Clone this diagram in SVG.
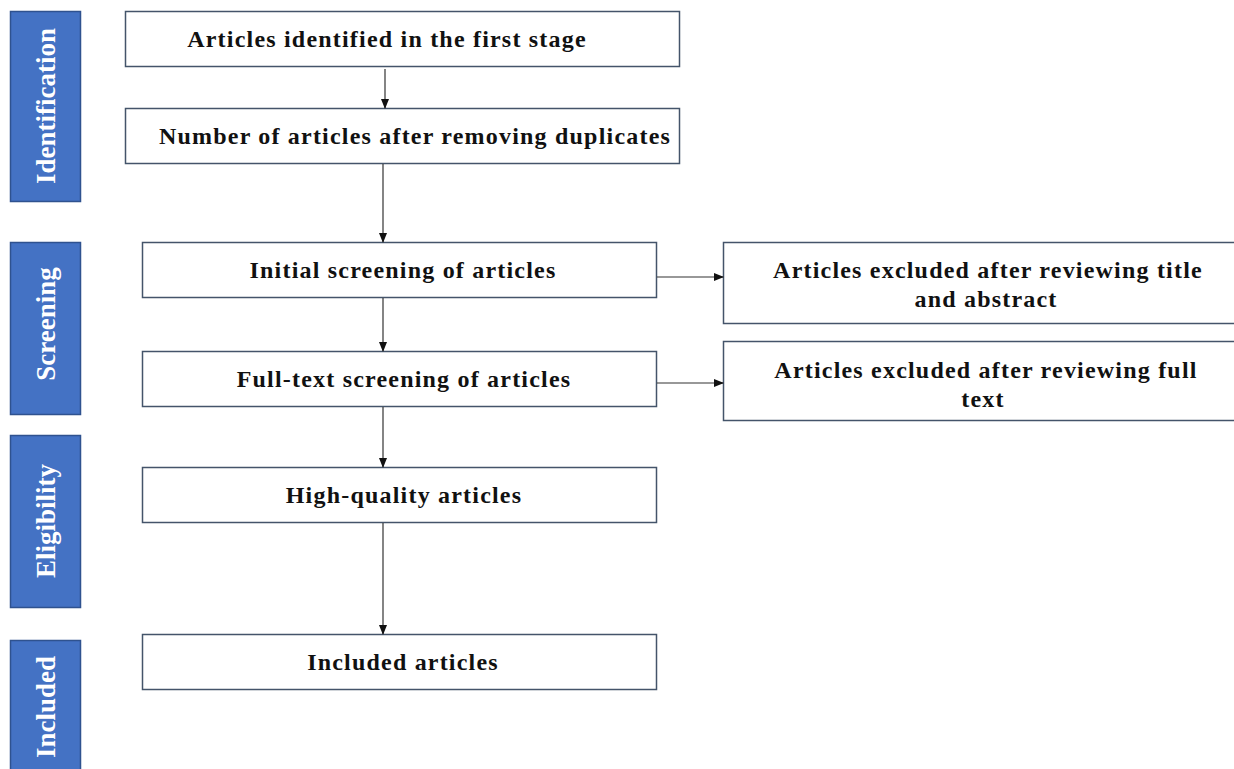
<svg xmlns="http://www.w3.org/2000/svg" width="1234" height="769" viewBox="0 0 1234 769">
<defs>
<marker id="arr" markerWidth="10" markerHeight="8" refX="9" refY="4" orient="auto" markerUnits="userSpaceOnUse">
<path d="M0,0 L10,4 L0,8 Z" fill="#111"/>
</marker>
<style>
.side{fill:#4472C4;stroke:#2F528F;stroke-width:1.5}
.sidet{fill:#fff;font-family:"Liberation Serif",serif;font-weight:bold;font-size:27px;text-anchor:middle}
.box{fill:#fff;stroke:#44546A;stroke-width:1.5}
.t{fill:#111;font-family:"Liberation Serif",serif;font-weight:bold;font-size:24px;letter-spacing:1.2px;text-anchor:middle}
.c{stroke:#333;stroke-width:1.2;fill:none;marker-end:url(#arr)}
</style>
</defs>
<rect width="1234" height="769" fill="#fff"/>
<g id="phase-identification"><rect class="side" x="10.5" y="11.5" width="70" height="190"/><text class="sidet" transform="translate(55,106) rotate(-90)">Identification</text></g>
<g id="phase-screening"><rect class="side" x="10.5" y="242.5" width="70" height="172"/><text class="sidet" transform="translate(55,324) rotate(-90)">Screening</text></g>
<g id="phase-eligibility"><rect class="side" x="10.5" y="435.5" width="70" height="172"/><text class="sidet" transform="translate(55,521) rotate(-90)">Eligibility</text></g>
<g id="phase-included"><rect class="side" x="10.5" y="640.5" width="70" height="135"/><text class="sidet" transform="translate(55,707) rotate(-90)">Included</text></g>
<g id="n1"><rect class="box" x="125.5" y="11.5" width="554" height="55"/><text class="t" x="387" y="47">Articles identified in the first stage</text></g>
<g id="n2"><rect class="box" x="125.5" y="108.5" width="554" height="55"/><text class="t" x="415" y="144">Number of articles after removing duplicates</text></g>
<g id="n3"><rect class="box" x="142.5" y="242.5" width="514" height="55"/><text class="t" x="403" y="278">Initial screening of articles</text></g>
<g id="n4"><rect class="box" x="142.5" y="351.5" width="514" height="55"/><text class="t" x="404" y="387">Full-text screening of articles</text></g>
<g id="n5"><rect class="box" x="142.5" y="467.5" width="514" height="55"/><text class="t" x="404" y="503">High-quality articles</text></g>
<g id="n6"><rect class="box" x="142.5" y="634.5" width="514" height="55"/><text class="t" x="403" y="670">Included articles</text></g>
<g id="x1"><rect class="box" x="723.5" y="242.5" width="520" height="81"/><text class="t" x="988" y="278">Articles excluded after reviewing title</text><text class="t" x="986" y="307">and abstract</text></g>
<g id="x2"><rect class="box" x="723.5" y="341.5" width="520" height="79"/><text class="t" x="986" y="378">Articles excluded after reviewing full</text><text class="t" x="983" y="407">text</text></g>
<g id="connectors">
<line class="c" x1="385" y1="69" x2="385" y2="108"/>
<line class="c" x1="383" y1="164" x2="383" y2="242"/>
<line class="c" x1="383" y1="298" x2="383" y2="351"/>
<line class="c" x1="383" y1="407" x2="383" y2="467"/>
<line class="c" x1="383" y1="523" x2="383" y2="634"/>
<line class="c" x1="657" y1="277" x2="723" y2="277"/>
<line class="c" x1="657" y1="383" x2="723" y2="383"/>
</g>
</svg>
